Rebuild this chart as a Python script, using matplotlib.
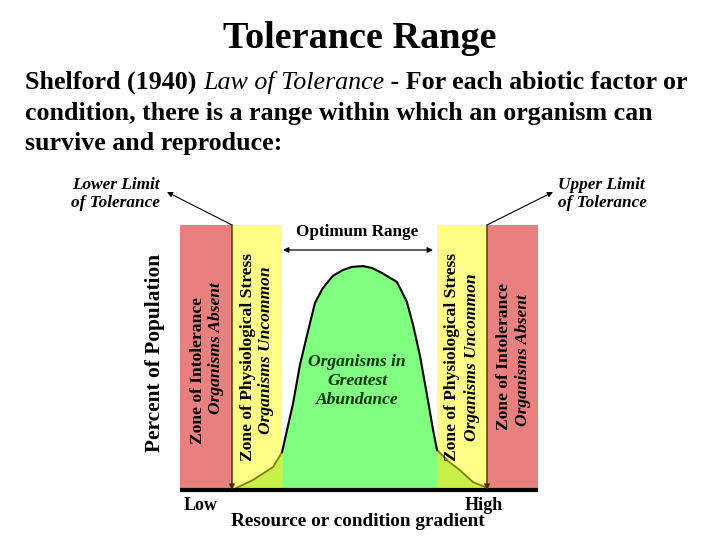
import matplotlib
matplotlib.use("Agg")
import matplotlib.pyplot as plt
from matplotlib.patches import Rectangle

# zone edges along the gradient (0 = low, 100 = high)
zone_edges = [0, 14.5, 28.5, 71.8, 85.8, 100]
zone_colors = ["#e88080", "#ffff88", "#ffffff00", "#ffff88", "#e88080"]

# population curve (percent of population vs gradient)
gradient = [14.5, 20.4, 26.0, 28.5, 31.6, 33.5, 35.5, 37.7, 39.9, 42.7, 45.5, 48.0,
            51.1, 53.6, 56.4, 60.6, 63.4, 65.1, 67.0, 69.0, 70.7, 71.8, 75.0,
            78.2, 81.8, 85.8]
percent = [0, 3.8, 8.7, 14.3, 32.8, 47.2, 58.5, 70.6, 76.2, 80.8, 83.0, 84.2,
           84.5, 83.8, 81.9, 78.5, 70.9, 62.3, 50.9, 35.8, 22.6, 15.1, 10.8,
           7.5, 3.0, 0.8]

title = "Tolerance Range"
body_lines = ["condition, there is a range within which an organism can",
              "survive and reproduce:"]

SERIF = "Liberation Serif"
plt.rcParams["font.family"] = SERIF

fig = plt.figure(figsize=(7.2, 5.4), dpi=100)

# main chart area
ax = fig.add_axes([180 / 720, 1 - 490 / 540, 358 / 720, 265 / 540])
ax.set_xlim(0, 100)
ax.set_ylim(0, 100)
ax.axis("off")

for i in range(len(zone_colors)):
    ax.add_patch(Rectangle((zone_edges[i], 0), zone_edges[i + 1] - zone_edges[i], 100,
                           facecolor=zone_colors[i], edgecolor="none", zorder=1))

# green fill under whole curve, then yellow-green where it lies in the stress zones
ax.fill_between(gradient, percent, 0, color="#80ff80", zorder=2, linewidth=0)
left = [i for i, g in enumerate(gradient) if g <= zone_edges[2]]
right = [i for i, g in enumerate(gradient) if g >= zone_edges[3]]
mid = [i for i, g in enumerate(gradient) if zone_edges[2] <= g <= zone_edges[3]]
for idx in (left, right):
    ax.fill_between([gradient[i] for i in idx], [percent[i] for i in idx], 0,
                    color="#c8f048", zorder=3, linewidth=0)
    ax.plot([gradient[i] for i in idx], [percent[i] for i in idx], color="#808000",
            lw=1.3, zorder=4)
ax.plot([gradient[i] for i in mid], [percent[i] for i in mid], color="black", lw=1.5, zorder=4)

# baseline
ax.plot([0, 100], [0, 0], color="black", lw=3, zorder=5, clip_on=False, solid_capstyle="butt")

# overlay in pixel units for text and arrows
ov = fig.add_axes([0, 0, 1, 1], facecolor="none")
ov.set_xlim(0, 720)
ov.set_ylim(540, 0)
ov.axis("off")

ov.text(360, 38, title, ha="center", va="center", fontsize=27.5, fontweight="bold")

# first body line with italic part
fig.canvas.draw()
renderer = fig.canvas.get_renderer()
x0 = 25
pieces = [("Shelford (1940) ", "normal", "bold"), ("Law of Tolerance", "italic", "normal"),
          (" - For each abiotic factor or", "normal", "bold")]
inv = ov.transData.inverted()
for txt, st, wt in pieces:
    t = ov.text(x0, 89, txt, ha="left", va="baseline", fontsize=18.7, fontweight=wt, style=st)
    bb = t.get_window_extent(renderer)
    x0 = inv.transform((bb.x1, bb.y1))[0]
for k, line in enumerate(body_lines):
    ov.text(25, 120 + 30 * k, line, ha="left", va="baseline", fontsize=18.7, fontweight="bold")

# limit labels and arrows
lim_kw = dict(va="center", fontsize=12.4, fontweight="bold", style="italic")
ov.text(160, 185, "Lower Limit", ha="right", **lim_kw)
ov.text(160, 203, "of Tolerance", ha="right", **lim_kw)
ov.text(558, 185, "Upper Limit", ha="left", **lim_kw)
ov.text(558, 203, "of Tolerance", ha="left", **lim_kw)
ov.annotate("", xy=(167, 192), xytext=(232, 225),
            arrowprops=dict(arrowstyle="-|>", color="black", lw=0.8, mutation_scale=8,
                            shrinkA=0, shrinkB=0))
ov.annotate("", xy=(553, 192), xytext=(487, 225),
            arrowprops=dict(arrowstyle="-|>", color="black", lw=0.8, mutation_scale=8,
                            shrinkA=0, shrinkB=0))
for xv in (232, 487):
    ov.annotate("", xy=(xv, 490), xytext=(xv, 225),
                arrowprops=dict(arrowstyle="-|>", color="#4a2a00", lw=1.0, mutation_scale=8,
                                shrinkA=0, shrinkB=0))

# optimum range
ov.text(357, 232, "Optimum Range", ha="center", va="center", fontsize=12.3, fontweight="bold")
ov.annotate("", xy=(283, 250), xytext=(433, 250),
            arrowprops=dict(arrowstyle="<|-|>", color="black", lw=0.9, mutation_scale=8,
                            shrinkA=0, shrinkB=0))

# zone labels
zone_text = [
    (198, 371, "Zone of Intolerance", "normal"),
    (216, 348, "Organisms Absent", "italic"),
    (248, 357, "Zone of Physiological Stress", "normal"),
    (266, 350, "Organisms Uncommon", "italic"),
    (452, 357, "Zone of Physiological Stress", "normal"),
    (472, 357, "Organisms Uncommon", "italic"),
    (504, 357, "Zone of Intolerance", "normal"),
    (523, 360, "Organisms Absent", "italic"),
]
for x, y, txt, st in zone_text:
    ov.text(x, y, txt, ha="center", va="center", rotation=90, fontsize=12.6,
            fontweight="bold", style=st)

for k, line in enumerate(["Organisms in", "Greatest", "Abundance"]):
    ov.text(357, 362 + 19 * k, line, ha="center", va="center", fontsize=12.6,
            fontweight="bold", style="italic", color="#003300")

ov.text(155, 353, "Percent of Population", ha="center", va="center", rotation=90,
        fontsize=15.4, fontweight="bold")
ov.text(201, 506, "Low", ha="center", va="center", fontsize=13, fontweight="bold")
ov.text(484, 506, "High", ha="center", va="center", fontsize=13, fontweight="bold")
ov.text(358, 522, "Resource or condition gradient", ha="center", va="center",
        fontsize=13.9, fontweight="bold")

fig.savefig("out.png", dpi=100)
